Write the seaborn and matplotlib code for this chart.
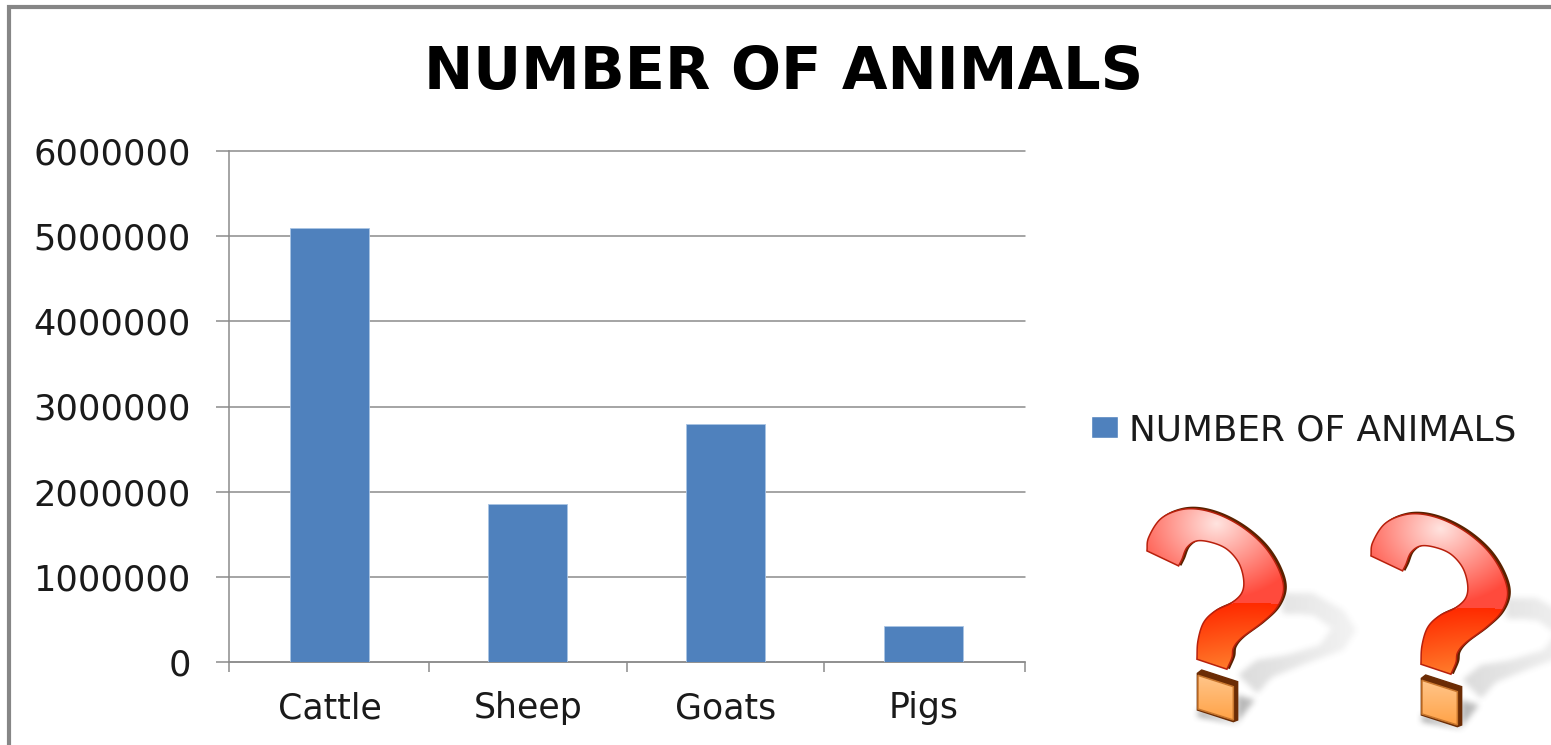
import numpy as np
import pandas as pd
import matplotlib
matplotlib.use("Agg")
import matplotlib.pyplot as plt
from matplotlib.path import Path
from matplotlib.patches import PathPatch, Patch
from matplotlib.ticker import FixedLocator
import seaborn as sns

categories = ["Cattle", "Sheep", "Goats", "Pigs"]
animals = [5100000, 1850000, 2800000, 420000]
y_ticks = [0, 1000000, 2000000, 3000000, 4000000, 5000000, 6000000]
series_name = "NUMBER OF ANIMALS"

W, H = 1551, 745
BLUE = "#4F81BD"
GRAY = "#8c8c8c"

sns.set_theme(style="white")
plt.rcParams["font.family"] = ["DejaVu Sans"]

fig = plt.figure(figsize=(W / 100, H / 100), dpi=100, facecolor="white")
ax = fig.add_axes([229 / W, 1 - 662 / H, (1025 - 229) / W, (662 - 151) / H])

df = pd.DataFrame({"animal": categories, "count": animals})
sns.barplot(data=df, x="animal", y="count", color=BLUE, saturation=1, width=0.4,
            ax=ax, zorder=3, edgecolor="#a9c4e4", linewidth=0.6)
XMIN, XMAX = -0.51, 3.514
ax.set_xlim(XMIN, XMAX)
ax.set_ylim(0, 6000000)
ax.set_xlabel("")
ax.set_ylabel("")
ax.set_yticks(y_ticks)
ax.set_yticklabels([str(v) for v in y_ticks], fontsize=25.3, color="#1a1a1a")
ax.yaxis.grid(True, color=GRAY, lw=1.1, zorder=0, clip_on=False)
ax.set_axisbelow(True)
ax.tick_params(axis="y", length=9.5, width=1.1, color=GRAY, pad=18, left=True)
ax.xaxis.set_minor_locator(FixedLocator([XMIN, 0.5, 1.5, 2.5, XMAX]))
ax.tick_params(axis="x", which="minor", length=7.5, width=1.1, color=GRAY, bottom=True)
ax.tick_params(axis="x", which="major", length=0, pad=21, labelsize=25, labelcolor="#1a1a1a")
for s in ("top", "right"):
    ax.spines[s].set_visible(False)
for s in ("left", "bottom"):
    ax.spines[s].set_color(GRAY)
    ax.spines[s].set_linewidth(1.1)

fig.text(784 / W, 1 - 73 / H, series_name, ha="center", va="center",
         fontsize=42.5, fontweight="bold", color="black")

fig.legend(handles=[Patch(facecolor=BLUE, label=series_name)], loc="center left",
           bbox_to_anchor=(1091 / W, 1 - 430 / H), frameon=False, fontsize=25.8,
           handlelength=0.74, handleheight=0.57, handletextpad=0.31, borderpad=0,
           borderaxespad=0, labelcolor="#1a1a1a")

# Overlay in pixel coordinates for the frame and the question-mark pictures
ov = fig.add_axes([0, 0, 1, 1], zorder=5)
ov.patch.set_alpha(0)
ov.axis("off")
ov.plot([9, 9, W], [H, 7, 7], color="#868686", lw=3, solid_joinstyle="miter")

HOOK_RUNS = [
    [(145, 180), (150, 140), (185, 85), (240, 58), (300, 55), (370, 75), (440, 115), (500, 170),
     (540, 235), (555, 295), (535, 350), (490, 395), (430, 440), (405, 470), (400, 500), (385, 535)],
    [(385, 535), (295, 505)],
    [(295, 505), (298, 450), (315, 395), (350, 360), (400, 335), (430, 305), (435, 265), (420, 215),
     (385, 175), (340, 155), (295, 150), (265, 170), (250, 205), (240, 225)],
    [(240, 225), (145, 180)],
]
DOT_OUT = [(292, 550), (305, 540), (413, 575), (413, 690), (400, 695), (292, 660)]
DOT_FACE = [(294, 556), (400, 590), (400, 690), (294, 657)]
SHADOW_A = [(415, 555), (470, 510), (560, 495), (660, 465), (695, 415), (640, 375), (545, 370),
            (545, 310), (640, 310), (730, 360), (770, 420), (730, 480), (620, 520), (520, 560),
            (470, 610)]
SHADOW_B = [(410, 615), (465, 630), (410, 700), (295, 680), (292, 660), (410, 695)]


def catmull(run, n=12):
    p = np.asarray(run, float)
    if len(p) == 2:
        return p
    q = np.vstack([2 * p[0] - p[1], p, 2 * p[-1] - p[-2]])
    out = []
    for i in range(1, len(q) - 2):
        for t in np.linspace(0, 1, n, endpoint=False):
            out.append(0.5 * (2 * q[i] + (q[i + 1] - q[i - 1]) * t
                              + (2 * q[i - 1] - 5 * q[i] + 4 * q[i + 1] - q[i + 2]) * t ** 2
                              + (3 * q[i] - q[i - 1] - 3 * q[i + 1] + q[i + 2]) * t ** 3))
    out.append(p[-1])
    return np.array(out)


HOOK = np.vstack([catmull(r) for r in HOOK_RUNS])


def px(points, dx, dy):
    a = np.asarray(points, float)
    return np.column_stack([1100 + a[:, 0] / 3 + dx, 490 + a[:, 1] / 3 + dy])


def closed(a):
    return Path(np.vstack([a, a[0]]), closed=True)


def hex2rgb(c):
    return np.array(matplotlib.colors.to_rgb(c))


def soft_shadow(poly, x0, x1, y0, y1, left_a, right_a):
    xs = np.arange(x0, x1)
    ys = np.arange(y0, y1)
    gx, gy = np.meshgrid(xs + 0.5, ys + 0.5)
    m = closed(poly).contains_points(np.column_stack([gx.ravel(), gy.ravel()])).reshape(gx.shape).astype(float)
    k = np.ones(7) / 7
    for _ in range(2):
        m = np.apply_along_axis(lambda r: np.convolve(r, k, "same"), 0, m)
        m = np.apply_along_axis(lambda r: np.convolve(r, k, "same"), 1, m)
    ramp = np.linspace(left_a, right_a, len(xs))[None, :]
    rgba = np.zeros(m.shape + (4,))
    rgba[..., :3] = 0.45
    rgba[..., 3] = m * ramp
    ov.imshow(rgba, extent=(x0, x1, y1, y0), aspect="auto", zorder=1, interpolation="bilinear")


def hook_face(path, dx, dy):
    x0, x1, y0, y1 = 1140 + dx, 1295 + dx, 500 + dy, 675 + dy
    xs = np.linspace(0, 455, 155) + 120
    ys = np.linspace(0, 525, 175) + 30
    gx, gy = np.meshgrid(xs, ys)
    red = hex2rgb("#ff2a00")
    white = hex2rgb("#ffe4e0")
    orange = hex2rgb("#ff7a2a")
    # boundary between the glossy upper part and the saturated lower part
    edge = 338 + 0.0009 * (gx - 450) ** 2
    d = np.hypot((gx - 345) / 1.2, gy - 100)
    w = np.clip(1 - d / 230, 0, 1)
    base = hex2rgb("#ff4a3c")
    upper = base + (white - base) * w[..., None]
    t = np.clip((gy - edge) / 190, 0, 1)[..., None]
    lower = red + (orange - red) * t
    img = np.where((gy < edge)[..., None], upper, lower)
    im = ov.imshow(img, extent=(x0, x1, y1, y0), aspect="auto", zorder=3, interpolation="bilinear")
    im.set_clip_path(PathPatch(path, transform=ov.transData))


def question_mark(dx, dy):
    soft_shadow(px(SHADOW_A, dx, dy), 1220 + dx, 1375 + dx, 575 + dy, 710 + dy, 0.28, 0.06)
    soft_shadow(px(SHADOW_B, dx, dy), 1185 + dx, 1270 + dx, 685 + dy, 735 + dy, 0.7, 0.4)
    hook = px(HOOK, dx, dy)
    ov.add_patch(PathPatch(closed(hook + [1.0, -0.3]), fc="#5a2200", ec="#5a2200", lw=1.2, zorder=2))
    face = closed(hook + [-1.4, 0.9])
    hook_face(face, dx, dy)
    ov.add_patch(PathPatch(face, fc="none", ec="#b8200c", lw=1.1, zorder=4))
    ov.add_patch(PathPatch(closed(px(DOT_OUT, dx, dy)), fc="#6b2c05", ec="#6b2c05", lw=1, zorder=2))
    d = closed(px(DOT_FACE, dx, dy))
    im = ov.imshow(np.linspace(0, 1, 64)[:, None],
                   cmap=matplotlib.colors.LinearSegmentedColormap.from_list("d", ["#ffc58a", "#ff9f40"]),
                   extent=(1190 + dx, 1240 + dx, 725 + dy, 675 + dy), aspect="auto", zorder=3)
    im.set_clip_path(PathPatch(d, transform=ov.transData))
    ov.add_patch(PathPatch(d, fc="none", ec="#c9772e", lw=1.1, zorder=4))


question_mark(0, 0)
question_mark(224, 5)
ov.set_xlim(0, W)
ov.set_ylim(H, 0)

fig.savefig("out.png", dpi=100)
